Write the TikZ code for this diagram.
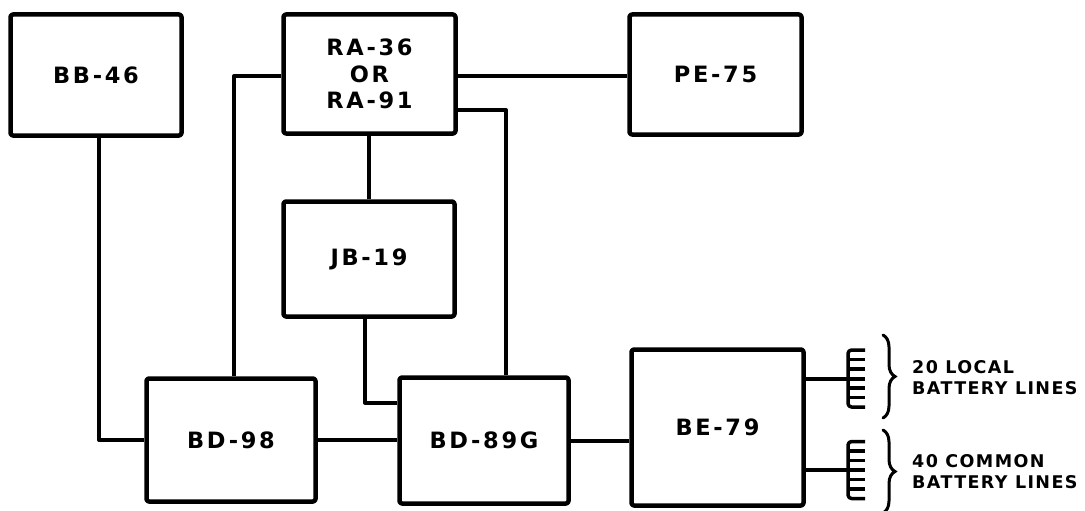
\documentclass[tikz,border=0pt]{standalone}
\usepackage{fontspec}
\newfontfamily\lblfont{DejaVu Sans}[LetterSpace=12]
\newfontfamily\notefont{DejaVu Sans}[LetterSpace=8]
\usetikzlibrary{decorations.pathreplacing}
\begin{document}
\begin{tikzpicture}[x=1pt,y=-1pt,
  unit/.style={draw, line width=4.5pt, line join=round, rounded corners=2.5pt, inner sep=0pt,
    align=center, font=\lblfont\bfseries\fontsize{22.5}{26.5}\selectfont},
  wire/.style={line width=4pt, line join=round},
  combline/.style={line width=3.5pt, line join=round},
  bracestyle/.style={line width=3pt, line cap=round, decorate, decoration={brace, amplitude=12pt, aspect=0.5}},
  note/.style={anchor=west, align=left, inner sep=0pt,
    font=\notefont\bfseries\fontsize{17.5}{21}\selectfont}]
\useasboundingbox (0,0) rectangle (1085,511);

\node[unit, minimum width=171pt, minimum height=121pt] (bb) at (96,75) {BB-46};
\node[unit, minimum width=172pt, minimum height=119pt] (ra) at (369.5,74) {RA-36\\OR\\RA-91};
\node[unit, minimum width=172pt, minimum height=120pt] (pe) at (715.5,74.5) {PE-75};
\node[unit, minimum width=171pt, minimum height=115pt] (jb) at (369,259) {JB-19};
\node[unit, minimum width=169pt, minimum height=123pt] (bd98) at (231,440) {BD-98};
\node[unit, minimum width=169pt, minimum height=126pt] (bd89) at (484,440.5) {BD-89G};
\node[unit, minimum width=172pt, minimum height=156pt] (be) at (717.5,427.5) {BE-79};

\coordinate (c1) at (865,378.5);
\coordinate (c2) at (865,470);

% connectors
\draw[wire] ([xshift=3pt]bb.south) |- (bd98.west);
\draw[wire] ([yshift=-2pt]ra.west) -| ([xshift=3pt]bd98.north);
\draw[wire] ([yshift=-2pt]ra.east) -- ([yshift=-1.5pt]pe.west);
\draw[wire] ([yshift=-36pt]ra.east) -| ([xshift=22pt]bd89.north);
\draw[wire] (jb.north) -- (jb.north |- ra.south);
\draw[wire] ([xshift=-4pt]jb.south) |- ([yshift=38pt]bd89.west);
\draw[wire] (bd98.east) -- (bd98.east -| bd89.west);
\draw[wire] (bd89.east) -- (bd89.east -| be.west);
\draw[wire] (be.east |- c1) -- (c1);
\draw[wire] (be.east |- c2) -- (c2);

% combs
\draw[combline, rounded corners=3.5pt] (865,350) -- (848,350) -- (848,407) -- (865,407);
\foreach \yy in {359.5,369,388,397.5} \draw[combline] (848,\yy) -- (865,\yy);
\draw[combline, rounded corners=3.5pt] (865,441.5) -- (848,441.5) -- (848,498.5) -- (865,498.5);
\foreach \yy in {451,460.5,479.5,489} \draw[combline] (848,\yy) -- (865,\yy);

% braces
\draw[bracestyle] (883,335) -- (883,418);
\draw[bracestyle] (883,430) -- (883,513);

\node[note] (t1) at (912,378) {20 LOCAL\\BATTERY LINES};
\node[note] (t2) at (912,472) {40 COMMON\\BATTERY LINES};
\end{tikzpicture}
\end{document}
